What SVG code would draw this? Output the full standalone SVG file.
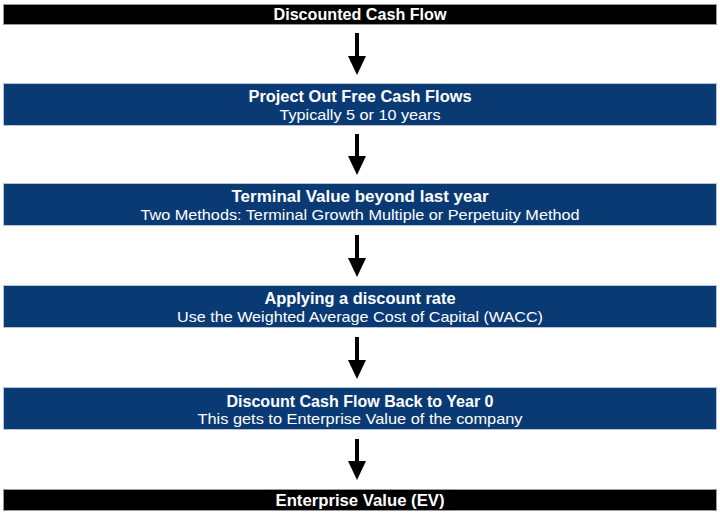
<svg xmlns="http://www.w3.org/2000/svg" width="720" height="513" viewBox="0 0 720 513">
<defs>
<style>
.bar{fill:#000;stroke:#9a9a9a;stroke-width:1}
.box{fill:#0a3a74;stroke:#b8c4d4;stroke-width:1}
.t{font-family:"Liberation Sans",Arial,sans-serif;fill:#fff;text-anchor:middle}
.h{font-weight:bold;font-size:16px}
.s{font-size:15px}
.arr{stroke:#000;stroke-width:4;fill:none}
</style>
<marker id="ah" viewBox="0 -10 20 20" refX="0" refY="0" markerWidth="20" markerHeight="20" markerUnits="userSpaceOnUse" orient="auto">
<path d="M0,-9 L19,0 L0,9 z" fill="#000"/>
</marker>
</defs>
<rect width="720" height="513" fill="#fff"/>
<g id="connectors">
<line class="arr" x1="357" y1="33" x2="357" y2="56" marker-end="url(#ah)"/>
<line class="arr" x1="357" y1="134" x2="357" y2="156" marker-end="url(#ah)"/>
<line class="arr" x1="357" y1="235" x2="357" y2="258" marker-end="url(#ah)"/>
<line class="arr" x1="357" y1="337" x2="357" y2="360" marker-end="url(#ah)"/>
<line class="arr" x1="357" y1="439" x2="357" y2="461" marker-end="url(#ah)"/>
</g>
<g id="dcf">
<rect class="bar" x="3.5" y="4.5" width="713" height="20"/>
<text class="t h" x="360" y="20" textLength="173" lengthAdjust="spacingAndGlyphs">Discounted Cash Flow</text>
</g>
<g id="project">
<rect class="box" x="3.5" y="83.5" width="713" height="42"/>
<text class="t h" x="360" y="102" textLength="223" lengthAdjust="spacingAndGlyphs">Project Out Free Cash Flows</text>
<text class="t s" x="360" y="120" textLength="161" lengthAdjust="spacingAndGlyphs">Typically 5 or 10 years</text>
</g>
<g id="terminal">
<rect class="box" x="3.5" y="183.5" width="713" height="42"/>
<text class="t h" x="360" y="202" textLength="257" lengthAdjust="spacingAndGlyphs">Terminal Value beyond last year</text>
<text class="t s" x="360" y="220" textLength="439" lengthAdjust="spacingAndGlyphs">Two Methods: Terminal Growth Multiple or Perpetuity Method</text>
</g>
<g id="discount-rate">
<rect class="box" x="3.5" y="285.5" width="713" height="42"/>
<text class="t h" x="360" y="304" textLength="191" lengthAdjust="spacingAndGlyphs">Applying a discount rate</text>
<text class="t s" x="360" y="322" textLength="366" lengthAdjust="spacingAndGlyphs">Use the Weighted Average Cost of Capital (WACC)</text>
</g>
<g id="discount-back">
<rect class="box" x="3.5" y="387.5" width="713" height="42"/>
<text class="t h" x="360" y="407" textLength="267" lengthAdjust="spacingAndGlyphs">Discount Cash Flow Back to Year 0</text>
<text class="t s" x="360" y="424" textLength="325" lengthAdjust="spacingAndGlyphs">This gets to Enterprise Value of the company</text>
</g>
<g id="ev">
<rect class="bar" x="3.5" y="489.5" width="713" height="21"/>
<text class="t h" x="360" y="506" textLength="169" lengthAdjust="spacingAndGlyphs">Enterprise Value (EV)</text>
</g>
</svg>
